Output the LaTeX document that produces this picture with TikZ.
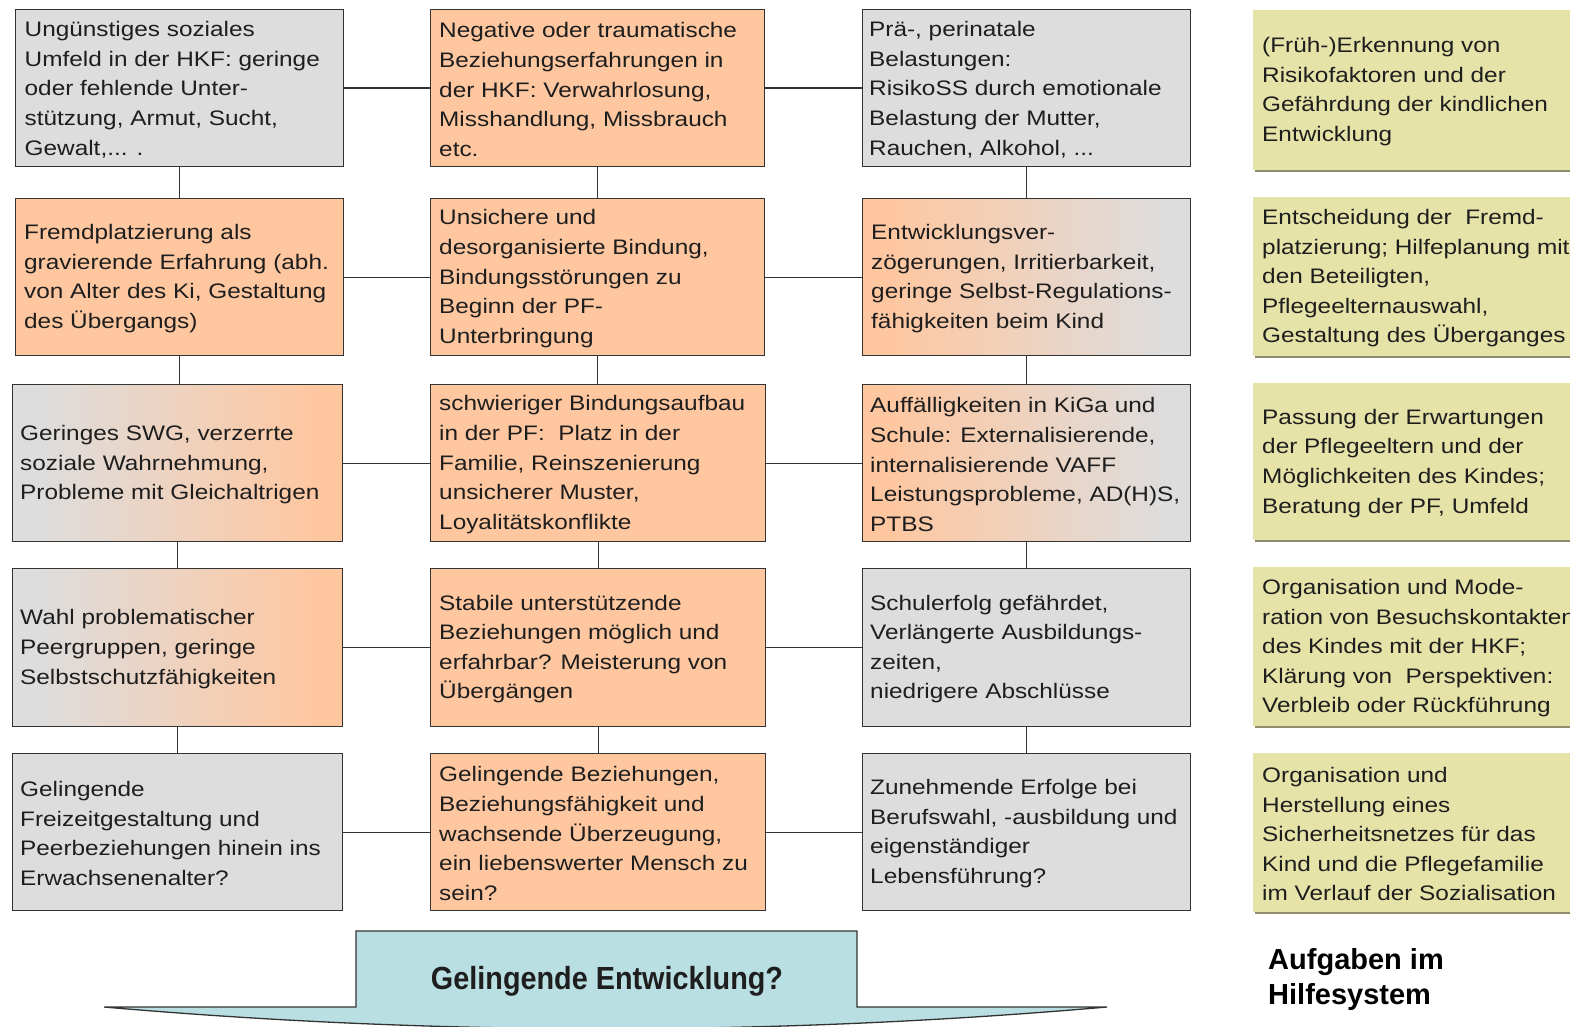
\documentclass[tikz,border=0pt]{standalone}
\usepackage{fontspec}
\setmainfont{Liberation Sans}
\newfontfamily\boxfont{Liberation Sans}[FakeStretch=1.16]
\newfontfamily\goalfont{Liberation Sans}[FakeStretch=0.9]
\usetikzlibrary{shadows}
\definecolor{graybox}{HTML}{DDDDDD}
\definecolor{orangebox}{HTML}{FFC7A0}
\definecolor{tealbox}{HTML}{B9DFE3}
\definecolor{greenbox}{HTML}{E6E3A9}
\definecolor{shadowcol}{HTML}{8F8D6E}
\definecolor{bordercol}{HTML}{333333}
\definecolor{textcol}{HTML}{1E1E1E}
\pgfdeclarehorizontalshading{ogshade}{100bp}{color(0bp)=(orangebox); color(29bp)=(orangebox); color(71bp)=(graybox); color(100bp)=(graybox)}
\pgfdeclarehorizontalshading{goshade}{100bp}{color(0bp)=(graybox); color(29bp)=(graybox); color(71bp)=(orangebox); color(100bp)=(orangebox)}
\tikzset{
  box/.style={rectangle, draw=bordercol, line width=1.3pt, inner sep=0pt, anchor=north west},
  gbox/.style={rectangle, fill=greenbox, inner sep=0pt, anchor=north west,
    general shadow={fill=shadowcol, shadow xshift=1.5pt, shadow yshift=-2.2pt}},
  txt/.style={anchor=west, align=left, inner sep=0pt, text=textcol,
    font=\boxfont\fontsize{21}{29.6}\selectfont},
  conn/.style={draw=bordercol, line width=1.3pt},
  go/.style={shading=goshade},
  og/.style={shading=ogshade},
}
\begin{document}
\begin{tikzpicture}[x=1pt,y=-1pt]
\useasboundingbox (0,0) rectangle (1570,1027);
\fill[white] (0,0) rectangle (1570,1027);

% ---------- row 1
\node[box, fill=graybox, minimum width=328pt, minimum height=157pt] (L1) at (15,9) {};
\node[box, fill=orangebox, minimum width=334pt, minimum height=157pt] (M1) at (430,9) {};
\node[box, fill=graybox, minimum width=328pt, minimum height=157pt] (R1) at (862,9) {};
% ---------- row 2
\node[box, fill=orangebox, minimum width=328pt, minimum height=157pt] (L2) at (15,198) {};
\node[box, fill=orangebox, minimum width=334pt, minimum height=157pt] (M2) at (430,198) {};
\node[box, og, minimum width=328pt, minimum height=157pt] (R2) at (862,198) {};
% ---------- row 3
\node[box, go, minimum width=330pt, minimum height=157pt] (L3) at (12,384) {};
\node[box, fill=orangebox, minimum width=335pt, minimum height=157pt] (M3) at (430,384) {};
\node[box, og, minimum width=328pt, minimum height=157pt] (R3) at (862,384) {};
% ---------- row 4
\node[box, go, minimum width=330pt, minimum height=158pt] (L4) at (12,568) {};
\node[box, fill=orangebox, minimum width=335pt, minimum height=158pt] (M4) at (430,568) {};
\node[box, fill=graybox, minimum width=328pt, minimum height=158pt] (R4) at (862,568) {};
% ---------- row 5
\node[box, fill=graybox, minimum width=330pt, minimum height=157pt] (L5) at (12,753) {};
\node[box, fill=orangebox, minimum width=335pt, minimum height=157pt] (M5) at (430,753) {};
\node[box, fill=graybox, minimum width=328pt, minimum height=157pt] (R5) at (862,753) {};

% ---------- texts
\node[txt] (L1t) at ([xshift=9.5pt,yshift=-1.5pt]L1.west) {Ungünstiges soziales\\Umfeld in der HKF: geringe\\oder fehlende Unter-\\stützung, Armut, Sucht,\\Gewalt,... .};
\node[txt] (M1t) at ([xshift=9pt,yshift=-1.5pt]M1.west) {Negative oder traumatische\\Beziehungserfahrungen in\\der HKF: Verwahrlosung,\\Misshandlung, Missbrauch\\etc.};
\node[txt] (R1t) at ([xshift=7pt,yshift=-1.5pt]R1.west) {Prä-, perinatale\\Belastungen:\\RisikoSS durch emotionale\\Belastung der Mutter,\\Rauchen, Alkohol, ...};

\node[txt] (L2t) at ([xshift=9pt,yshift=-1.5pt]L2.west) {Fremdplatzierung als\\gravierende Erfahrung (abh.\\von Alter des Ki, Gestaltung\\des Übergangs)};
\node[txt] (M2t) at ([xshift=9pt,yshift=-1.5pt]M2.west) {Unsichere und\\desorganisierte Bindung,\\Bindungsstörungen zu\\Beginn der PF-\\Unterbringung};
\node[txt] (R2t) at ([xshift=9pt,yshift=-1.5pt]R2.west) {Entwicklungsver-\\zögerungen, Irritierbarkeit,\\geringe Selbst-Regulations-\\fähigkeiten beim Kind};

\node[txt] (L3t) at ([xshift=8pt,yshift=-1.5pt]L3.west) {Geringes SWG, verzerrte\\soziale Wahrnehmung,\\Probleme mit Gleichaltrigen};
\node[txt] (M3t) at ([xshift=9pt,yshift=-1.5pt]M3.west) {schwieriger Bindungsaufbau\\in der PF:~ Platz in der\\Familie, Reinszenierung\\unsicherer Muster,\\Loyalitätskonflikte};
\node[txt] (R3t) at ([xshift=8pt,yshift=-1.5pt]R3.west) {Auffälligkeiten in KiGa und\\Schule: Externalisierende,\\internalisierende VAFF\\Leistungsprobleme, AD(H)S,\\PTBS};

\node[txt] (L4t) at ([xshift=8pt,yshift=-1.5pt]L4.west) {Wahl problematischer\\Peergruppen, geringe\\Selbstschutzfähigkeiten};
\node[txt] (M4t) at ([xshift=9pt,yshift=-1.5pt]M4.west) {Stabile unterstützende\\Beziehungen möglich und\\erfahrbar? Meisterung von\\Übergängen};
\node[txt] (R4t) at ([xshift=8pt,yshift=-1.5pt]R4.west) {Schulerfolg gefährdet,\\Verlängerte Ausbildungs-\\zeiten,\\niedrigere Abschlüsse};

\node[txt] (L5t) at ([xshift=8pt,yshift=-1.5pt]L5.west) {Gelingende\\Freizeitgestaltung und\\Peerbeziehungen hinein ins\\Erwachsenenalter?};
\node[txt] (M5t) at ([xshift=9pt,yshift=-1.5pt]M5.west) {Gelingende Beziehungen,\\Beziehungsfähigkeit und\\wachsende Überzeugung,\\ein liebenswerter Mensch zu\\sein?};
\node[txt] (R5t) at ([xshift=8pt,yshift=-1.5pt]R5.west) {Zunehmende Erfolge bei\\Berufswahl, -ausbildung und\\eigenständiger\\Lebensführung?};

% ---------- horizontal connectors
\foreach \r in {1,...,5}{
  \draw[conn] (L\r.east) -- (M\r.west);
  \draw[conn] (M\r.east) -- (R\r.west);
}
% ---------- vertical connectors
\foreach \a/\b in {1/2,2/3,3/4,4/5}{
  \draw[conn] (L\a.south) -- (L\a.south |- L\b.north);
  \draw[conn] (M\a.south) -- (M\a.south |- M\b.north);
  \draw[conn] (R\a.south) -- (R\a.south |- R\b.north);
}

% ---------- right column (tasks)
\node[gbox, minimum width=330pt, minimum height=160pt] (G1) at (1253,10) {};
\node[gbox, minimum width=330pt, minimum height=159pt] (G2) at (1253,197) {};
\node[gbox, minimum width=330pt, minimum height=157pt] (G3) at (1253,383) {};
\node[gbox, minimum width=330pt, minimum height=159pt] (G4) at (1253,567) {};
\node[gbox, minimum width=330pt, minimum height=159pt] (G5) at (1253,753) {};
\node[txt] (G1t) at ([xshift=9pt,yshift=-1.5pt]G1.west) {(Früh-)Erkennung von\\Risikofaktoren und der\\Gefährdung der kindlichen\\Entwicklung};
\node[txt] (G2t) at ([xshift=9pt,yshift=-1.5pt]G2.west) {Entscheidung der~ Fremd-\\platzierung; Hilfeplanung mit\\den Beteiligten,\\Pflegeelternauswahl,\\Gestaltung des Überganges};
\node[txt] (G3t) at ([xshift=9pt,yshift=-1.5pt]G3.west) {Passung der Erwartungen\\der Pflegeeltern und der\\Möglichkeiten des Kindes;\\Beratung der PF, Umfeld};
\node[txt] (G4t) at ([xshift=9pt,yshift=-1.5pt]G4.west) {Organisation und Mode-\\ration von Besuchskontakten\\des Kindes mit der HKF;\\Klärung von~ Perspektiven:\\Verbleib oder Rückführung};
\node[txt] (G5t) at ([xshift=9pt,yshift=-1.5pt]G5.west) {Organisation und\\Herstellung eines\\Sicherheitsnetzes für das\\Kind und die Pflegefamilie\\im Verlauf der Sozialisation};

\node[anchor=north west, align=left, inner sep=0pt, text=black,
  font=\bfseries\fontsize{29}{35}\selectfont] (aufg) at (1268,948) {Aufgaben im\\Hilfesystem};

% ---------- bottom goal shape
\path[fill=tealbox] (104,1007) -- (356,1007) -- (356,931) -- (857,931) -- (857,1007) -- (1107,1007)
  .. controls (772,1036) and (439,1036) .. (104,1007) -- cycle;
\draw[conn] (104,1007) -- (356,1007) -- (356,931) -- (857,931) -- (857,1007) -- (1107,1007)
  .. controls (772,1036) and (439,1036) .. (104,1007);
\node[inner sep=0pt, text=textcol, font=\goalfont\bfseries\fontsize{32}{38}\selectfont] (goal) at (607,981) {Gelingende Entwicklung?};
\end{tikzpicture}
\end{document}
